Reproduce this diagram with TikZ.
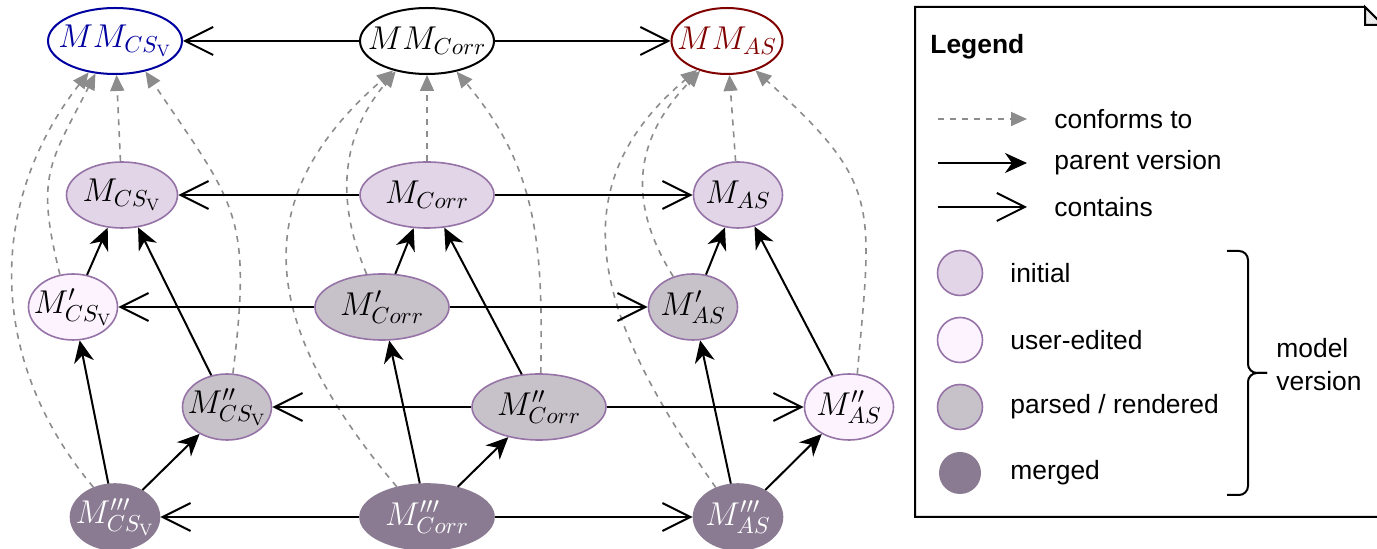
\RequirePackage{fix-cm}
\documentclass[tikz,border=0pt]{standalone}
\usepackage{fontspec}
\newfontfamily\legendfont{Liberation Sans}
\usetikzlibrary{shapes.geometric,arrows.meta}

\definecolor{cinit}{HTML}{E1D5E7}
\definecolor{cuser}{HTML}{FCF3FF}
\definecolor{cparsed}{HTML}{C7C2CA}
\definecolor{cmerged}{HTML}{8A7B93}
\definecolor{cborder}{HTML}{9673A6}
\definecolor{cconf}{HTML}{8C8C8C}
\definecolor{cblue}{HTML}{0000A0}
\definecolor{cred}{HTML}{800000}

\tikzset{
  model/.style={ellipse, draw=cborder, line width=0.8pt, inner xsep=-8pt, inner ysep=0pt,
    minimum height=33pt, font=\fontsize{16.5}{19}\selectfont},
  initial/.style={model, fill=cinit},
  useredit/.style={model, fill=cuser},
  parsed/.style={model, fill=cparsed},
  merged/.style={model, fill=cmerged, draw=cmerged, text=white},
  meta/.style={model, draw=black, line width=1pt, fill=white},
  wide/.style={minimum width=67pt},
  mid/.style={minimum width=55.5pt},
  slim/.style={minimum width=44.5pt},
  contains/.style={line width=1pt, -{Straight Barb[length=14pt,width=14pt,line width=1pt]}},
  parent/.style={line width=1pt, -{Stealth[length=11pt,width=10pt,inset=3.5pt]}},
  conforms/.style={draw=cconf, line width=0.8pt, dash pattern=on 3pt off 3pt,
    -{Triangle[length=8pt,width=7pt,fill=cconf]}},
  legtext/.style={anchor=west, inner sep=0pt, font=\legendfont\fontsize{13.2}{16.5}\selectfont},
  legtitle/.style={anchor=west, inner sep=0pt, font=\legendfont\bfseries\fontsize{13.2}{16.5}\selectfont},
  legdot/.style={circle, draw=cborder, line width=0.8pt, inner sep=0pt, minimum size=22.5pt}
}

\begin{document}
\begin{tikzpicture}[x=0.5pt,y=-0.5pt]
  \useasboundingbox (0,0) rectangle (1377,549);

  % metamodels
  \node[meta, wide, draw=cblue, text=cblue] (mmcsv) at (115,41) {$MM_{CS_\mathrm{V}}$};
  \node[meta, wide] (mmcorr) at (427,41) {$MM_{Corr}$};
  \node[meta, mid, draw=cred, text=cred] (mmas) at (727,41) {$MM_{AS}$};

  % model versions
  \node[initial, mid]   (mcsv)   at (122,195) {$M_{CS_\mathrm{V}}$};
  \node[initial, wide]  (mcorr)  at (427,195) {$M_{Corr}$};
  \node[initial, slim]  (mas)    at (738,195) {$M_{AS}$};

  \node[useredit, slim] (mcsv1)  at (73,307)  {$M'_{CS_\mathrm{V}}$};
  \node[parsed, wide]   (mcorr1) at (382,307) {$M'_{Corr}$};
  \node[parsed, slim]   (mas1)   at (693,307) {$M'_{AS}$};

  \node[parsed, slim]   (mcsv2)  at (227,407) {$M''_{CS_\mathrm{V}}$};
  \node[parsed, wide]   (mcorr2) at (539,407) {$M''_{Corr}$};
  \node[useredit, slim] (mas2)   at (849,407) {$M''_{AS}$};

  \node[merged, slim]   (mcsv3)  at (115,517) {$M'''_{CS_\mathrm{V}}$};
  \node[merged, wide]   (mcorr3) at (427,517) {$M'''_{Corr}$};
  \node[merged, slim]   (mas3)   at (738,517) {$M'''_{AS}$};

  % conforms to
  \draw[conforms] (mcsv3.126) to[out=130,in=-128,looseness=1.02] (mmcsv.-130);
  \draw[conforms] (mcsv1.112) to[out=104,in=-117,looseness=1.28] (mmcsv.-121);
  \draw[conforms] (mcsv) -- (mmcsv);
  \draw[conforms] (mcsv2.80) to[out=83,in=-56,looseness=1.31] (mmcsv.-45);

  \draw[conforms] (mcorr3.135) to[out=130,in=-139,looseness=1.25] (mmcorr.-139);
  \draw[conforms] (mcorr1.115) to[out=113,in=-130,looseness=1.04] (mmcorr.-136);
  \draw[conforms] (mcorr) -- (mmcorr);
  \draw[conforms] (mcorr2.87) to[out=89,in=-50,looseness=1.04] (mmcorr.-46);

  \draw[conforms] (mas3.127) to[out=125,in=-140,looseness=1.18] (mmas.-136);
  \draw[conforms] (mas1.123) to[out=122,in=-134,looseness=1.13] (mmas.-132);
  \draw[conforms] (mas) -- (mmas);
  \draw[conforms] (mas2.76) to[out=85,in=-42,looseness=1.36] (mmas.-46);

  % parent version
  \foreach \from/\to in {mcsv1/mcsv,mcsv2/mcsv,mcsv3/mcsv1,mcsv3/mcsv2,
      mcorr1/mcorr,mcorr2/mcorr,mcorr3/mcorr1,mcorr3/mcorr2,
      mas1/mas,mas2/mas,mas3/mas1,mas3/mas2}
    \draw[parent] (\from) -- (\to);

  % contains
  \foreach \from/\to in {mmcorr/mmcsv,mmcorr/mmas,mcorr/mcsv,mcorr/mas,
      mcorr1/mcsv1,mcorr1/mas1,mcorr2/mcsv2,mcorr2/mas2,mcorr3/mcsv3,mcorr3/mas3}
    \draw[contains] (\from) -- (\to);

  % legend
  \draw[line width=1pt] (915,517) -- (915,7) -- (1365,7) -- (1383,25) -- (1383,517) -- cycle;
  \filldraw[fill=gray!15, line width=1pt] (1365,7) -- (1365,25) -- (1383,25) -- cycle;
  \node[legtitle] (legtitle) at (930,47) {Legend};

  \foreach \y/\sty/\txt/\nm in {119/conforms/conforms to/conf,
      163/parent/parent version/par,207/contains/contains/cont} {
    \coordinate (\nm s) at (938,\y);
    \coordinate (\nm e) at (1027,\y);
    \draw[\sty] (\nm s) -- (\nm e);
    \node[legtext] (\nm t) at (1054,\y) {\txt};
  }

  \node[legdot, fill=cinit]   (dini) at (960,273) {};
  \node[legdot, fill=cuser]   (dusr) at (960,340) {};
  \node[legdot, fill=cparsed] (dprs) at (960,407) {};
  \node[legdot, fill=cmerged, draw=none, minimum size=21pt] (dmrg) at (960,473) {};
  \node[legtext] (tini) at (1010,273) {initial};
  \node[legtext] (tusr) at (1010,340) {user-edited};
  \node[legtext] (tprs) at (1010,407) {parsed / rendered};
  \node[legtext] (tmrg) at (1010,473) {merged};

  % brace
  \draw[line width=1pt, rounded corners=4.5pt] (1227,251) -- (1248,251) -- (1248,373) -- (1267,373);
  \draw[line width=1pt, rounded corners=4.5pt] (1227,495) -- (1248,495) -- (1248,373) -- (1267,373);
  \node[legtext, align=left] (tver) at (1276,365) {model\\version};
\end{tikzpicture}
\end{document}
